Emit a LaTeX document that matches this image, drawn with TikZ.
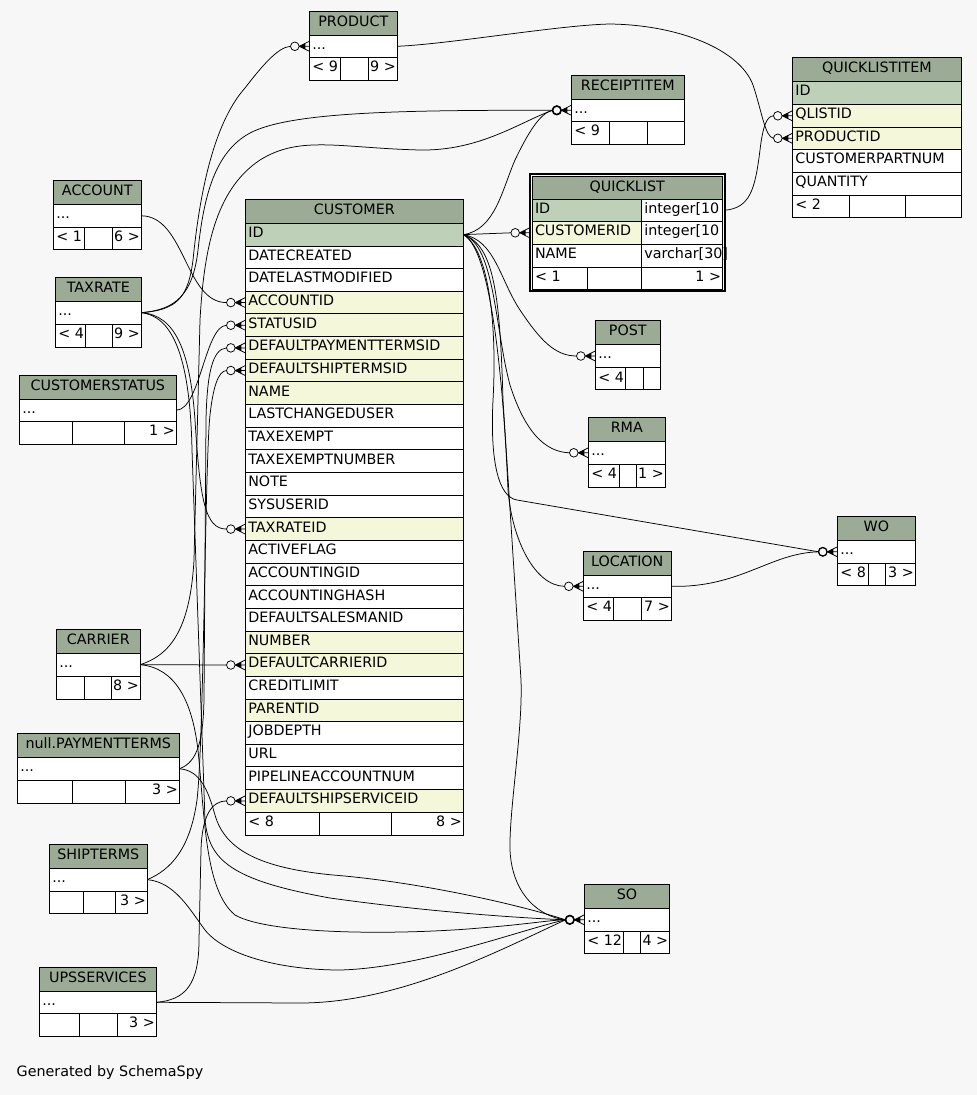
\documentclass[tikz,border=0pt]{standalone}
\usepackage{fontspec}
\setmainfont{DejaVu Sans}
\definecolor{bg}{HTML}{F7F7F7}
\definecolor{hdr}{HTML}{9BAB96}
\definecolor{pk}{HTML}{BED1B8}
\definecolor{fk}{HTML}{F4F7DA}
\tikzset{
  rowbox/.style={draw=black, line width=0.9pt, anchor=north west, inner sep=0pt, outer sep=0pt},
  rowtext/.style={anchor=base west, inner sep=0pt, outer sep=0pt, font=\fontsize{14.3}{16}\selectfont, text=black},
  tline/.style={draw=black, line width=0.9pt},
  edge/.style={draw=black, line width=0.75pt},
}
\newcommand\erow[7]{%
  \node[rowbox, fill=#6, minimum width=#4pt, minimum height=#5pt] (#1) at (#2,#3) {};
  \node[rowtext] at ([xshift=3pt,yshift=-14.3pt]#1.north west) {#7};}
\newcommand\ehead[6]{%
  \node[rowbox, fill=hdr, minimum width=#4pt, minimum height=#5pt] (#1) at (#2,#3) {};
  \node[rowtext, anchor=base] at ([yshift=-15.2pt]#1.north) {#6};}
\newcommand\efoot[9]{%
  \node[rowbox, fill=white, minimum width=#4pt, minimum height=#5pt] (#1) at (#2,#3) {};
  \draw[tline] (#6,#3) -- ++(0,#5);
  \draw[tline] (#7,#3) -- ++(0,#5);
  \node[rowtext] at ([xshift=3pt,yshift=-14.3pt]#1.north west) {#8};
  \node[rowtext, anchor=base east] at ([xshift=-1.5pt,yshift=-14.3pt]#1.north east) {#9};}
\newcommand\mk[1]{%
  \draw[edge] ([xshift=-14.5pt]#1) circle (4.3pt);
  \draw[edge] ([xshift=-10pt]#1) -- ([yshift=5pt]#1) ([xshift=-10pt]#1) -- (#1) ([xshift=-10pt]#1) -- ([yshift=-5pt]#1);
  \fill ([xshift=-10pt]#1) -- ([xshift=-4pt,yshift=3pt]#1) -- ([xshift=-4pt,yshift=-3pt]#1) -- cycle;}
\begin{document}
\begin{tikzpicture}[x=1pt,y=-1pt]
\useasboundingbox (0,0) rectangle (977,1095);
\fill[bg] (0,0) rectangle (977,1095);

% PRODUCT
\ehead{prod-h}{309.3}{11.3}{88}{24}{PRODUCT}
\erow{prod-r}{309.3}{35.3}{88}{22}{white}{...}
\efoot{prod-f}{309.3}{57.3}{88}{23}{340.3}{368.3}{< 9}{9 >}
% ACCOUNT
\ehead{acc-h}{53.3}{180.3}{88}{24}{ACCOUNT}
\erow{acc-r}{53.3}{204.3}{88}{23}{white}{...}
\efoot{acc-f}{53.3}{227.3}{88}{22}{84.7}{112.7}{< 1}{6 >}
% TAXRATE
\ehead{tax-h}{55.3}{277.3}{86}{24}{TAXRATE}
\erow{tax-r}{55.3}{301.3}{86}{22.7}{white}{...}
\efoot{tax-f}{55.3}{324}{86}{23.3}{85.3}{112.7}{< 4}{9 >}
% CUSTOMERSTATUS
\ehead{cst-h}{19.3}{375.3}{157}{24}{CUSTOMERSTATUS}
\erow{cst-r}{19.3}{399.3}{157}{21.7}{white}{...}
\efoot{cst-f}{19.3}{421}{157}{23.3}{72.3}{124.3}{}{1 >}
% CARRIER
\ehead{car-h}{56.3}{629.3}{84}{24}{CARRIER}
\erow{car-r}{56.3}{653.3}{84}{22.7}{white}{...}
\efoot{car-f}{56.3}{676}{84}{23}{84.7}{111.3}{}{8 >}
% PAYMENTTERMS
\ehead{pay-h}{17.3}{733.3}{162}{24}{null.PAYMENTTERMS}
\erow{pay-r}{17.3}{757.3}{162}{23}{white}{...}
\efoot{pay-f}{17.3}{780.3}{162}{22.7}{72.3}{125.3}{}{3 >}
% SHIPTERMS
\ehead{shp-h}{49.3}{844.3}{98}{24}{SHIPTERMS}
\erow{shp-r}{49.3}{868.3}{98}{22.7}{white}{...}
\efoot{shp-f}{49.3}{891}{98}{22}{83.3}{115.3}{}{3 >}
% UPSSERVICES
\ehead{ups-h}{39.3}{967.7}{117}{23.6}{UPSSERVICES}
\erow{ups-r}{39.3}{991.3}{117}{22}{white}{...}
\efoot{ups-f}{39.3}{1013.3}{117}{22.7}{79.3}{117.3}{}{3 >}
% CUSTOMER
\ehead{cu-h}{245.3}{199.3}{218}{24}{CUSTOMER}
\foreach \t/\c [count=\i from 0] in {ID/pk,DATECREATED/white,DATELASTMODIFIED/white,ACCOUNTID/fk,STATUSID/fk,DEFAULTPAYMENTTERMSID/fk,DEFAULTSHIPTERMSID/fk,NAME/fk,LASTCHANGEDUSER/white,TAXEXEMPT/white,TAXEXEMPTNUMBER/white,NOTE/white,SYSUSERID/white,TAXRATEID/fk,ACTIVEFLAG/white,ACCOUNTINGID/white,ACCOUNTINGHASH/white,DEFAULTSALESMANID/white,NUMBER/fk,DEFAULTCARRIERID/fk,CREDITLIMIT/white,PARENTID/fk,JOBDEPTH/white,URL/white,PIPELINEACCOUNTNUM/white,DEFAULTSHIPSERVICEID/fk}
  {\erow{cu\i}{245.3}{223.3+22.65*\i}{218}{22.65}{\c}{\t}}
\efoot{cu-f}{245.3}{812.2}{218}{23}{319.3}{391.3}{< 8}{8 >}
% RECEIPTITEM
\ehead{rcp-h}{571.3}{75.3}{113}{24}{RECEIPTITEM}
\erow{rcp-r}{571.3}{99.3}{113}{22}{white}{...}
\efoot{rcp-f}{571.3}{121.3}{113}{23}{609.3}{647.3}{< 9}{}
% QUICKLIST
\node[draw=black, line width=2pt, anchor=north west, inner sep=0pt, outer sep=0pt, minimum width=195.1pt, minimum height=117.6pt] (ql) at (529.7,173.7) {};
\ehead{ql-h}{532}{176}{190.5}{23.3}{QUICKLIST}
\erow{ql-id}{532}{199.3}{109.3}{22}{pk}{ID}
\erow{ql-idt}{641.3}{199.3}{81.2}{22}{white}{integer[10}
\erow{ql-cid}{532}{221.3}{109.3}{23}{fk}{CUSTOMERID}
\erow{ql-cidt}{641.3}{221.3}{81.2}{23}{white}{integer[10}
\erow{ql-nm}{532}{244.3}{109.3}{23}{white}{NAME}
\erow{ql-nmt}{641.3}{244.3}{81.2}{23}{white}{varchar[30]}
\efoot{ql-f}{532}{267.3}{190.5}{21.7}{587.3}{641.3}{< 1}{1 >}
% QUICKLISTITEM
\ehead{qli-h}{792.3}{57.3}{169.4}{24}{QUICKLISTITEM}
\erow{qli-id}{792.3}{81.3}{169.4}{23}{pk}{ID}
\erow{qli-ql}{792.3}{104.3}{169.4}{23}{fk}{QLISTID}
\erow{qli-pr}{792.3}{127.3}{169.4}{22}{fk}{PRODUCTID}
\erow{qli-cp}{792.3}{149.3}{169.4}{23}{white}{CUSTOMERPARTNUM}
\erow{qli-qt}{792.3}{172.3}{169.4}{23}{white}{QUANTITY}
\efoot{qli-f}{792.3}{195.3}{169.4}{22}{849.3}{905.3}{< 2}{}
% POST
\ehead{post-h}{595.3}{320.3}{65}{24}{POST}
\erow{post-r}{595.3}{344.3}{65}{23.4}{white}{...}
\efoot{post-f}{595.3}{367.7}{65}{21.6}{625.3}{643.3}{< 4}{}
% RMA
\ehead{rma-h}{588.3}{417.3}{77}{24}{RMA}
\erow{rma-r}{588.3}{441.3}{77}{23}{white}{...}
\efoot{rma-f}{588.3}{464.3}{77}{23}{619.3}{636.3}{< 4}{1 >}
% LOCATION
\ehead{loc-h}{583.3}{551.3}{88}{24}{LOCATION}
\erow{loc-r}{583.3}{575.3}{88}{22}{white}{...}
\efoot{loc-f}{583.3}{597.3}{88}{23}{613.3}{641.3}{< 4}{7 >}
% WO
\ehead{wo-h}{837.3}{516.3}{78}{24}{WO}
\erow{wo-r}{837.3}{540.3}{78}{23}{white}{...}
\efoot{wo-f}{837.3}{563.3}{78}{22}{868.3}{885.3}{< 8}{3 >}
% SO
\ehead{so-h}{584.3}{884.3}{85.4}{24}{SO}
\erow{so-r}{584.3}{908.3}{85.4}{23}{white}{...}
\efoot{so-f}{584.3}{931.3}{85.4}{22}{623.3}{640.3}{< 12}{4 >}

\node[rowtext] (gen) at (16.7,1076.5) {Generated by SchemaSpy};

% child end points
\coordinate (qlcw) at (ql.west |- ql-cid.west);
\coordinate (in-acc) at ([xshift=-18.8pt]cu3.west);
\coordinate (in-st) at ([xshift=-18.8pt]cu4.west);
\coordinate (in-pt) at ([xshift=-18.8pt]cu5.west);
\coordinate (in-stm) at ([xshift=-18.8pt]cu6.west);
\coordinate (in-tx) at ([xshift=-18.8pt]cu13.west);
\coordinate (in-car) at ([xshift=-18.8pt]cu19.west);
\coordinate (in-ss) at ([xshift=-18.8pt]cu25.west);
\coordinate (in-prod) at ([xshift=-18.8pt]prod-r.west);
\coordinate (in-rcp) at ([xshift=-18.8pt]rcp-r.west);
\coordinate (in-ql) at ([xshift=-18.8pt]qlcw);
\coordinate (in-qlq) at ([xshift=-18.8pt]qli-ql.west);
\coordinate (in-qlp) at ([xshift=-18.8pt]qli-pr.west);
\coordinate (in-post) at ([xshift=-18.8pt]post-r.west);
\coordinate (in-rma) at ([xshift=-18.8pt]rma-r.west);
\coordinate (in-loc) at ([xshift=-18.8pt]loc-r.west);
\coordinate (in-wo) at ([xshift=-18.8pt]wo-r.west);
\coordinate (in-so) at ([xshift=-18.8pt]so-r.west);

% connectors into CUSTOMER
\draw[edge] (acc-r.east) .. controls (185,216) and (185,302.6) .. (in-acc);
\draw[edge] (cst-r.east) .. controls (200,410) and (205,326) .. (in-st);
\draw[edge] (pay-r.east) .. controls (198,762) and (203,740) .. (204,700) -- (206,420) .. controls (207,375) and (212,349) .. (in-pt);
\draw[edge] (shp-r.east) .. controls (170,870) and (190,850) .. (197,800) .. controls (204,740) and (205,460) .. (210,415) .. controls (213,388) and (218,371) .. (in-stm);
\draw[edge] (tax-r.east) .. controls (175,315) and (190,350) .. (195,420) .. controls (200,500) and (205,529) .. (in-tx);
\draw[edge] (car-r.east) -- (in-car);
\draw[edge] (ups-r.east) .. controls (185,1000) and (199,985) .. (199,940) -- (201,850) .. controls (202,815) and (212,801) .. (in-ss);
% PRODUCT, RECEIPTITEM
\draw[edge] (tax-r.east) .. controls (175,310) and (188,300) .. (193,260) .. controls (199,200) and (212,125) .. (245,88) .. controls (262,66) and (278,47) .. (in-prod);
\draw[edge] (tax-r.east) .. controls (175,310) and (193,295) .. (198,250) .. controls (204,195) and (215,152) .. (250,133) .. controls (290,112) and (400,110) .. (in-rcp);
\draw[edge] (car-r.east) .. controls (170,655) and (190,630) .. (194,560) -- (200,320) .. controls (204,250) and (215,190) .. (260,160) .. controls (300,135) and (340,148) .. (420,150) .. controls (480,151) and (520,122) .. (in-rcp);
\draw[edge] (cu0.east) .. controls (495,230) and (502,190) .. (515,160) .. controls (528,133) and (540,113) .. (in-rcp);
% from CUSTOMER.ID
\draw[edge] (cu0.east) -- (in-ql);
\draw[edge] (cu0.east) .. controls (495,240) and (500,280) .. (520,310) .. controls (540,340) and (555,356) .. (in-post);
\draw[edge] (cu0.east) .. controls (495,245) and (495,330) .. (510,385) .. controls (525,432) and (545,452) .. (in-rma);
\draw[edge] (cu0.east) .. controls (490,250) and (497,330) .. (493,400) .. controls (490,460) and (498,497) .. (517,500) -- (in-wo);
\draw[edge] (cu0.east) .. controls (495,250) and (505,420) .. (508,490) .. controls (512,540) and (535,586) .. (in-loc);
\draw[edge] (cu0.east) .. controls (495,245) and (500,300) .. (503,400) -- (521,680) .. controls (523,730) and (509,810) .. (510,850) .. controls (512,895) and (540,917) .. (in-so);
% QUICKLISTITEM
\draw[edge] ([xshift=2pt]ql-idt.east) .. controls (750,208) and (755,190) .. (760,150) .. controls (763,125) and (767,116) .. (in-qlq);
\draw[edge] (prod-r.east) .. controls (450,44) and (560,25) .. (610,24) .. controls (680,25) and (740,50) .. (753,85) .. controls (762,112) and (765,137) .. (in-qlp);
% LOCATION to WO
\draw[edge] (loc-r.east) .. controls (740,588) and (770,553) .. (in-wo);
% into SO
\draw[edge] (pay-r.east) .. controls (200,770) and (208,790) .. (215,815) .. controls (225,850) and (260,868) .. (333,875) .. controls (420,882) and (520,905) .. (in-so);
\draw[edge] (tax-r.east) .. controls (170,316) and (190,350) .. (192,450) -- (205,820) .. controls (209,860) and (230,880) .. (330,898) .. controls (430,912) and (520,918) .. (in-so);
\draw[edge] (car-r.east) .. controls (175,668) and (192,700) .. (198,750) .. controls (205,820) and (205,890) .. (235,915) .. controls (270,935) and (400,935) .. (480,928) .. controls (530,924) and (550,920) .. (in-so);
\draw[edge] (shp-r.east) .. controls (175,882) and (190,910) .. (205,930) .. controls (225,955) and (280,970) .. (340,970) .. controls (420,968) and (520,930) .. (in-so);
\draw[edge] (ups-r.east) -- (300,1003) .. controls (400,1003) and (500,950) .. (in-so);

% child markers
\mk{cu3.west}
\mk{cu4.west}
\mk{cu5.west}
\mk{cu6.west}
\mk{cu13.west}
\mk{cu19.west}
\mk{cu25.west}
\mk{prod-r.west}
\mk{rcp-r.west}
\mk{qlcw}
\mk{qli-ql.west}
\mk{qli-pr.west}
\mk{post-r.west}
\mk{rma-r.west}
\mk{loc-r.west}
\mk{wo-r.west}
\mk{so-r.west}
\draw[line width=1.6pt] ([xshift=-14.5pt]rcp-r.west) circle (4.3pt);
\draw[line width=1.6pt] ([xshift=-14.5pt]so-r.west) circle (4.3pt);
\draw[line width=1.2pt] ([xshift=-14.5pt]wo-r.west) circle (4.3pt);
\end{tikzpicture}
\end{document}
